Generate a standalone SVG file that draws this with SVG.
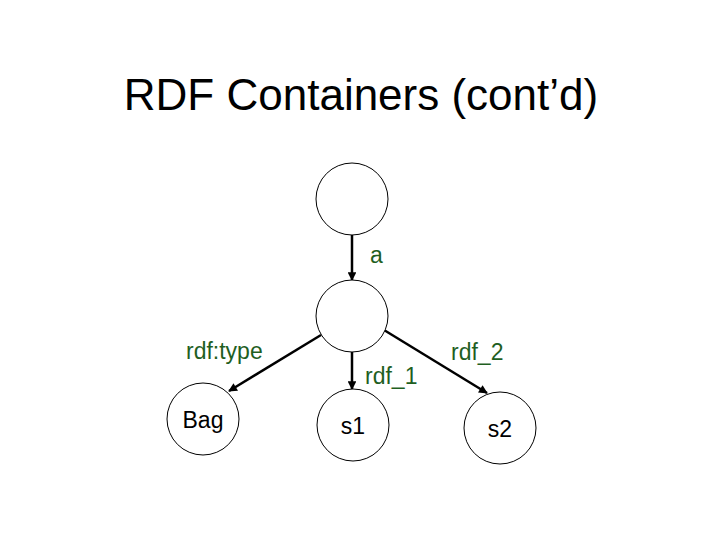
<svg xmlns="http://www.w3.org/2000/svg" width="720" height="540" viewBox="0 0 720 540">
<style>
.node circle{fill:#fff;stroke:#000;stroke-width:1}
.nt{font-family:"Liberation Sans",Arial,sans-serif;font-size:23px;fill:#000;text-anchor:middle}
.lbl{font-family:"Liberation Sans",Arial,sans-serif;font-size:23px;fill:#1f5f1f}
.edge{stroke:#000;stroke-width:2.5;fill:none;marker-end:url(#ah)}
</style>
<defs>
<marker id="ah" viewBox="0 0 10 10" refX="9" refY="5" markerWidth="4" markerHeight="3.5" orient="auto" markerUnits="strokeWidth">
<path d="M0,0 L10,5 L0,10 z" fill="#000"/>
</marker>
</defs>
<rect width="720" height="540" fill="#fff"/>
<text x="361" y="110" font-family="Liberation Sans,Arial,sans-serif" font-size="44" text-anchor="middle" fill="#000">RDF Containers (cont’d)</text>
<g id="connectors">
<line class="edge" x1="352" y1="235" x2="352" y2="280"/>
<line class="edge" x1="321" y1="335" x2="229" y2="391"/>
<line class="edge" x1="352" y1="352" x2="352" y2="389"/>
<line class="edge" x1="384" y1="330" x2="487" y2="393"/>
<text class="lbl" x="370" y="263">a</text>
<text class="lbl" x="186" y="359">rdf:type</text>
<text class="lbl" x="365" y="384">rdf_1</text>
<text class="lbl" x="451" y="360">rdf_2</text>
</g>
<g id="n_top" class="node"><circle cx="352" cy="199" r="36"/></g>
<g id="n_mid" class="node"><circle cx="352" cy="316" r="36"/></g>
<g id="n_bag" class="node"><circle cx="203" cy="419" r="36"/><text class="nt" x="203" y="428">Bag</text></g>
<g id="n_s1" class="node"><circle cx="353" cy="425" r="36"/><text class="nt" x="353" y="434">s1</text></g>
<g id="n_s2" class="node"><circle cx="500" cy="428" r="36"/><text class="nt" x="500" y="437">s2</text></g>
</svg>
